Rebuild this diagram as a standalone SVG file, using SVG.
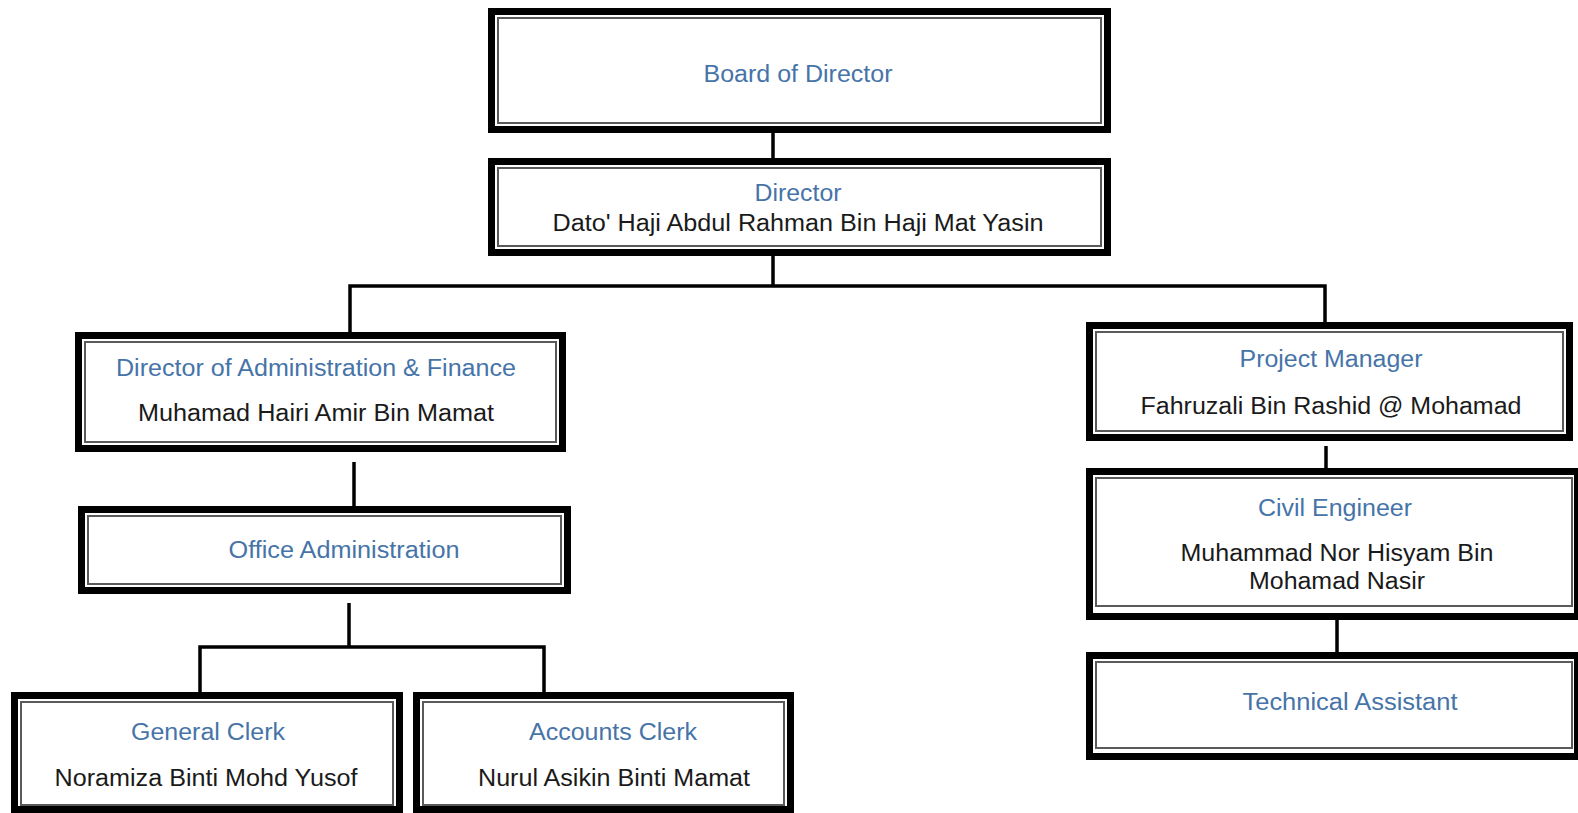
<svg xmlns="http://www.w3.org/2000/svg" width="1578" height="813" viewBox="0 0 1578 813">
<style>
.outer{fill:#fff;stroke:#000;stroke-width:7}
.inner{fill:none;stroke:#5a5a5a;stroke-width:2}
.t{font-family:"Liberation Sans",Arial,sans-serif;font-size:23px;text-anchor:middle}
.title{fill:#4674a8}
.name{fill:#1a1a1a}
.conn{fill:none;stroke:#000;stroke-width:3.5}
</style>
<rect width="1578" height="813" fill="#fff"/>
<g id="connectors">
<path class="conn" d="M773 133V158"/>
<path class="conn" d="M773 256V286"/>
<path class="conn" d="M350 332V286H1325V322"/>
<path class="conn" d="M354 462V506"/>
<path class="conn" d="M349 603V647"/>
<path class="conn" d="M200 692V647H544V692"/>
<path class="conn" d="M1326 446V468"/>
<path class="conn" d="M1337 620V652"/>
</g>
<g id="board">
<rect class="outer" x="491.5" y="11.5" width="616" height="118"/>
<rect class="inner" x="498" y="18" width="603" height="105"/>
<text class="t title" x="798" y="82" textLength="189" lengthAdjust="spacingAndGlyphs">Board of Director</text>
</g>
<g id="director">
<rect class="outer" x="491.5" y="161.5" width="616" height="91"/>
<rect class="inner" x="498" y="168" width="603" height="78"/>
<text class="t title" x="798" y="201" textLength="87" lengthAdjust="spacingAndGlyphs">Director</text>
<text class="t name" x="798" y="231" textLength="491" lengthAdjust="spacingAndGlyphs">Dato' Haji Abdul Rahman Bin Haji Mat Yasin</text>
</g>
<g id="dir-admin-finance">
<rect class="outer" x="78.5" y="335.5" width="484" height="113"/>
<rect class="inner" x="85" y="342" width="471" height="100"/>
<text class="t title" x="316" y="376" textLength="400" lengthAdjust="spacingAndGlyphs">Director of Administration &amp; Finance</text>
<text class="t name" x="316" y="421" textLength="356" lengthAdjust="spacingAndGlyphs">Muhamad Hairi Amir Bin Mamat</text>
</g>
<g id="office-admin">
<rect class="outer" x="81.5" y="509.5" width="486" height="81"/>
<rect class="inner" x="88" y="516" width="473" height="68"/>
<text class="t title" x="344" y="558" textLength="231" lengthAdjust="spacingAndGlyphs">Office Administration</text>
</g>
<g id="general-clerk">
<rect class="outer" x="14.5" y="695.5" width="385" height="114"/>
<rect class="inner" x="21" y="702" width="372" height="103"/>
<text class="t title" x="208" y="740" textLength="154" lengthAdjust="spacingAndGlyphs">General Clerk</text>
<text class="t name" x="206" y="786" textLength="303" lengthAdjust="spacingAndGlyphs">Noramiza Binti Mohd Yusof</text>
</g>
<g id="accounts-clerk">
<rect class="outer" x="416.5" y="695.5" width="374" height="114"/>
<rect class="inner" x="423" y="702" width="361" height="103"/>
<text class="t title" x="613" y="740" textLength="168" lengthAdjust="spacingAndGlyphs">Accounts Clerk</text>
<text class="t name" x="614" y="786" textLength="272" lengthAdjust="spacingAndGlyphs">Nurul Asikin Binti Mamat</text>
</g>
<g id="project-manager">
<rect class="outer" x="1089.5" y="325.5" width="480" height="112"/>
<rect class="inner" x="1096" y="332" width="467" height="99"/>
<text class="t title" x="1331" y="367" textLength="183" lengthAdjust="spacingAndGlyphs">Project Manager</text>
<text class="t name" x="1331" y="414" textLength="381" lengthAdjust="spacingAndGlyphs">Fahruzali Bin Rashid @ Mohamad</text>
</g>
<g id="civil-engineer">
<rect class="outer" x="1089.5" y="471.5" width="488" height="145"/>
<rect class="inner" x="1096" y="478" width="476" height="128"/>
<text class="t title" x="1335" y="516" textLength="154" lengthAdjust="spacingAndGlyphs">Civil Engineer</text>
<text class="t name" x="1337" y="561" textLength="313" lengthAdjust="spacingAndGlyphs">Muhammad Nor Hisyam Bin</text>
<text class="t name" x="1337" y="589" textLength="176" lengthAdjust="spacingAndGlyphs">Mohamad Nasir</text>
</g>
<g id="technical-assistant">
<rect class="outer" x="1089.5" y="655.5" width="488" height="101"/>
<rect class="inner" x="1096" y="662" width="476" height="86"/>
<text class="t title" x="1350" y="710" textLength="215" lengthAdjust="spacingAndGlyphs">Technical Assistant</text>
</g>
</svg>
